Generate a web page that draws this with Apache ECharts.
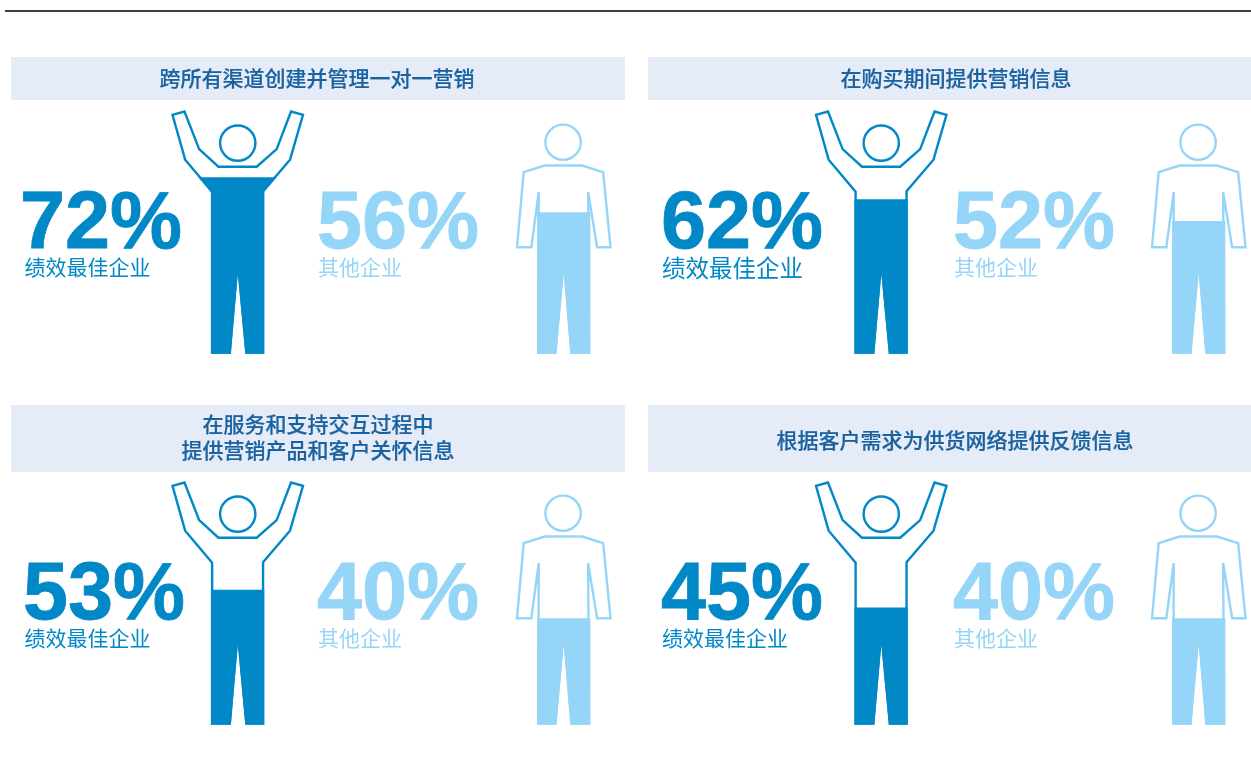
<!DOCTYPE html>
<html lang="zh">
<head>
<meta charset="utf-8">
<title>营销能力对比</title>
<style>
  html, body { margin: 0; padding: 0; background: #fff; }
  #chart { width: 1251px; height: 769px; }
</style>
<script src="https://cdn.jsdelivr.net/npm/echarts@6/dist/echarts.min.js"></script>
</head>
<body>
<div id="chart"></div>
<script>
// Survey results, one entry per panel
const panelTitles = [
  '跨所有渠道创建并管理一对一营销',
  '在购买期间提供营销信息',
  '在服务和支持交互过程中\n提供营销产品和客户关怀信息',
  '根据客户需求为供货网络提供反馈信息'
];
const bestValues = [72, 62, 53, 45];
const otherValues = [56, 52, 40, 40];
const bestLabel = '绩效最佳企业';
const otherLabel = '其他企业';

const DARK = '#0088c7';
const LIGHT = '#95d5f7';
const BAND = '#e6ecf7';
const TITLE_INK = '#1a629f';

// Person pictograms. Each has an outline, the region that takes the fill, and that
// region's bounds inside the pictogram's own box.
const CHEER = {
  box: [392, 725],
  outline: 'M0 10L36 0L80 113L138 166L253 166L313 113L356 0L392 10L353 145L272 240L272 725L222 725L196 447L172 725L119 725L119 241L38 145Z' +
    'M249 95A53 53 0 1 1 143 95A53 53 0 1 1 249 95Z',
  body: 'M0 10L36 0L80 113L138 166L253 166L313 113L356 0L392 10L353 145L272 240L272 725L222 725L196 447L172 725L119 725L119 241L38 145Z',
  bounds: [0, 0, 392, 725],
  top: 102
};
const STAND = {
  box: [280, 686],
  outline: 'M20 143L0 369L43 369L65 203L64 686L115 686L140 405L163 686L216 686L213 203L240 369L280 369L258 143L195 123L83 123Z' +
    'M191 53A53 53 0 1 1 85 53A53 53 0 1 1 191 53Z',
  body: 'M64 203L64 686L115 686L140 405L163 686L216 686L216 203Z',
  bounds: [64, 203, 216, 686],
  top: 96
};

// Shared value scale: the figures' feet sit on AXIS_MIN
const AXIS_MIN = -8;
const AXIS_MAX = 102;

// Panel geometry in page pixels
const panels = [
  { band: [11, 57, 614, 43],  title: [317, 78],  rowTop: 111.5, cheerX: 172.5, standX: 517, pct: [20, 222], sub: [24.5, 267], subSize: 21, otherPct: [317, 222], otherSub: [318, 267] },
  { band: [648, 57, 603, 43], title: [956, 78],  rowTop: 111.5, cheerX: 816,   standX: 1152, pct: [661, 222], sub: [662, 268], subSize: 23.5, otherPct: [953, 222], otherSub: [954, 267] },
  { band: [11, 405, 614, 67], title: [318, 437], rowTop: 482.5, cheerX: 172.5, standX: 517, pct: [23, 593], sub: [24.5, 638], subSize: 21, otherPct: [317, 593], otherSub: [318, 638] },
  { band: [648, 405, 603, 67], title: [955, 440], rowTop: 482.5, cheerX: 816,  standX: 1152, pct: [661, 593], sub: [662, 638], subSize: 21, otherPct: [953, 593], otherSub: [954, 638] }
];
const CHEER_W = 130.5;
const STAND_W = 93.5;
const FIG_H = 241;
const STROKE = 2.4;

function figureItem(figure, color) {
  return function (params, api) {
    const base = api.coord([0, AXIS_MIN]);
    const top = api.coord([0, figure.top]);
    const level = api.coord([0, api.value(1)]);
    const w = api.size([1, 0])[0];
    const x0 = base[0] - w / 2;
    const h = base[1] - top[1];
    const sx = w / figure.box[0];
    const sy = h / figure.box[1];
    const b = figure.bounds;
    return {
      type: 'group',
      children: [
        {
          type: 'path',
          shape: { pathData: figure.outline, layout: 'cover', x: x0, y: top[1], width: w, height: h },
          style: { fill: 'none', stroke: color, lineWidth: STROKE, lineJoin: 'miter', miterLimit: 4 }
        },
        {
          type: 'path',
          shape: {
            pathData: figure.body, layout: 'cover',
            x: x0 + b[0] * sx, y: top[1] + b[1] * sy,
            width: (b[2] - b[0]) * sx, height: (b[3] - b[1]) * sy
          },
          style: { fill: color, stroke: color, lineWidth: STROKE, lineJoin: 'miter', miterLimit: 30 },
          clipPath: { type: 'rect', shape: { x: x0 - 4, y: level[1], width: w + 8, height: base[1] - level[1] + 4 } }
        }
      ]
    };
  };
}

const grids = [], xAxes = [], yAxes = [], series = [];
function addFigure(x, top, width, name, value, figure, color) {
  const i = grids.length;
  grids.push({ left: x, top: top, width: width, height: FIG_H });
  xAxes.push({ gridIndex: i, type: 'category', data: [name], show: false });
  yAxes.push({ gridIndex: i, type: 'value', min: AXIS_MIN, max: AXIS_MAX, show: false });
  series.push({
    type: 'custom', name, xAxisIndex: i, yAxisIndex: i, clip: false, silent: true,
    renderItem: figureItem(figure, color),
    data: [[0, value]]
  });
}

const graphics = [];
const bigFont = 'bold 81px "Liberation Sans", Arial, sans-serif';
const cjk = '"Noto Sans CJK SC", sans-serif';
function addText(text, x, y, font, fill, extra) {
  graphics.push({
    type: 'text', silent: true, z: 5,
    style: Object.assign({ x, y, text, font, fill, align: 'left', verticalAlign: 'middle' }, extra || {})
  });
}

panels.forEach((p, i) => {
  addFigure(p.cheerX, p.rowTop, CHEER_W, bestLabel, bestValues[i], CHEER, DARK);
  addFigure(p.standX, p.rowTop, STAND_W, otherLabel, otherValues[i], STAND, LIGHT);
  graphics.push({
    type: 'rect', silent: true, z: 1,
    shape: { x: p.band[0], y: p.band[1], width: p.band[2], height: p.band[3] },
    style: { fill: BAND }
  });
  addText(panelTitles[i], p.title[0], p.title[1], '500 21px ' + cjk, TITLE_INK,
    { align: 'center', lineHeight: 26, stroke: TITLE_INK, lineWidth: 0.2 });
  addText(bestValues[i] + '%', p.pct[0], p.pct[1] + 4, bigFont, DARK, { stroke: DARK, lineWidth: 0.8 });
  addText(bestLabel, p.sub[0], p.sub[1], p.subSize + 'px ' + cjk, DARK);
  addText(otherValues[i] + '%', p.otherPct[0], p.otherPct[1] + 4, bigFont, LIGHT, { stroke: LIGHT, lineWidth: 0.8 });
  addText(otherLabel, p.otherSub[0], p.otherSub[1], '21px ' + cjk, LIGHT);
});

// Rule across the top of the page
graphics.push({
  type: 'line', silent: true, z: 5,
  shape: { x1: 5, y1: 11, x2: 1251, y2: 11 },
  style: { stroke: '#000000', lineWidth: 1.4 }
});

const chart = echarts.init(document.getElementById('chart'), null, { renderer: 'canvas' });
chart.setOption({
  animation: false,
  backgroundColor: '#ffffff',
  grid: grids,
  xAxis: xAxes,
  yAxis: yAxes,
  series: series,
  graphic: graphics
});
</script>
</body>
</html>
